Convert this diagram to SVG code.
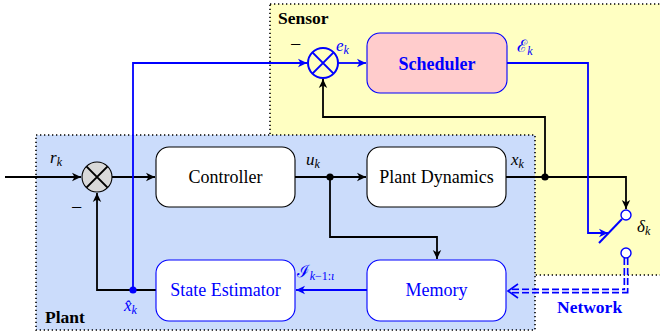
<svg xmlns="http://www.w3.org/2000/svg" width="660" height="332" viewBox="0 0 660 332">
<defs>
<style>
.zone{stroke:#000;stroke-width:1.6;stroke-dasharray:1.3 2.7}
.box{stroke-width:1.1}
.bk{fill:none;stroke:#000;stroke-width:1.8}
.bl{fill:none;stroke:#0000ff;stroke-width:1.8}
text{font-family:"Liberation Serif","Times New Roman",Times,serif}
.t{font-size:18px;text-anchor:middle}
.b{font-weight:bold;font-size:17.5px}
.m{font-style:italic;font-size:17px}
.s{font-size:12px}
.sc{font-family:"DejaVu Serif","Noto Sans",serif;font-style:normal;font-size:17px}
</style>
<marker id="ak" viewBox="-10 -5 11 10" refX="0" refY="0" markerWidth="11" markerHeight="10" markerUnits="userSpaceOnUse" orient="auto"><path d="M0,0 L-9,-4.2 L-6.5,0 L-9,4.2 Z" fill="#000"/></marker>
<marker id="ab" viewBox="-10 -5 11 10" refX="0" refY="0" markerWidth="11" markerHeight="10" markerUnits="userSpaceOnUse" orient="auto"><path d="M0,0 L-9,-4.2 L-6.5,0 L-9,4.2 Z" fill="#0000ff"/></marker>
</defs>

<g id="sensor-zone">
<rect x="270" y="4" width="394" height="271" fill="#ffffc2" class="zone"/>
<text class="b" x="278" y="24">Sensor</text>
</g>
<g id="plant-zone">
<rect x="36" y="135" width="499" height="195" fill="#cbdcfb" class="zone"/>
<text class="b" x="45" y="323">Plant</text>
</g>

<g id="connectors">
<path class="bk" d="M5,177 H81" marker-end="url(#ak)"/>
<path class="bk" d="M112,177 H155" marker-end="url(#ak)"/>
<path class="bk" d="M295,177 H366" marker-end="url(#ak)"/>
<path class="bk" d="M330,177 V237 H437 V259" marker-end="url(#ak)"/>
<path class="bk" d="M506,177 H626 V209" marker-end="url(#ak)"/>
<path class="bk" d="M545,177 V117 H323 V79" marker-end="url(#ak)"/>
<path class="bk" d="M156,290 H97 V193" marker-end="url(#ak)"/>
<path class="bl" d="M133,290 V63 H307" marker-end="url(#ab)"/>
<path class="bl" d="M338,63 H366" marker-end="url(#ab)"/>
<path class="bl" d="M507,63 H588 V233 H608" marker-end="url(#ab)"/>
<path class="bl" d="M367,290 H296" marker-end="url(#ab)"/>
<path d="M599,243 L622,219" fill="none" stroke="#0000ff" stroke-width="2"/>
<g id="network-link">
<path d="M626,258 V291 H512" fill="none" stroke="#0000ff" stroke-width="5" stroke-dasharray="7 3"/>
<path d="M626,258 V291 H512" fill="none" stroke="#ffffff" stroke-width="1.6" stroke-dasharray="7 3"/>
<path d="M518,284 L508,291 L518,298" fill="none" stroke="#0000ff" stroke-width="1.6"/>
</g>
<circle cx="330" cy="177" r="3.6" fill="#000"/>
<circle cx="545" cy="177" r="3.6" fill="#000"/>
<circle cx="133" cy="290" r="3.6" fill="#0000ff"/>
</g>

<g id="sum-sensor">
<circle cx="323" cy="63" r="15" fill="none" stroke="#0000ff" stroke-width="2"/>
<path d="M312.4,52.4 L333.6,73.6 M333.6,52.4 L312.4,73.6" stroke="#0000ff" stroke-width="2"/>
<text x="290" y="51" font-size="20">−</text>
</g>
<g id="sum-plant">
<circle cx="97" cy="177" r="15" fill="#d9d9d9" stroke="#000" stroke-width="1.1"/>
<path d="M86.4,166.4 L107.6,187.6 M107.6,166.4 L86.4,187.6" stroke="#000" stroke-width="2"/>
<text x="71" y="214" font-size="20">−</text>
</g>
<g id="scheduler">
<rect x="367" y="33" width="140" height="60" rx="13" fill="#ffcccc" stroke="#0000ff" class="box"/>
<text class="t" x="437" y="70" font-weight="bold" fill="#0000ff">Scheduler</text>
</g>
<g id="controller">
<rect x="156" y="147" width="139" height="60" rx="13" fill="#fff" stroke="#000" class="box"/>
<text class="t" x="225.5" y="183">Controller</text>
</g>
<g id="plant-dynamics">
<rect x="367" y="147" width="139" height="60" rx="13" fill="#fff" stroke="#000" class="box"/>
<text class="t" x="436.5" y="183">Plant Dynamics</text>
</g>
<g id="state-estimator">
<rect x="156" y="260" width="139" height="61" rx="13" fill="#fff" stroke="#0000ff" class="box"/>
<text class="t" x="225.5" y="296" fill="#0000ff">State Estimator</text>
</g>
<g id="memory">
<rect x="367" y="260" width="139" height="61" rx="13" fill="#fff" stroke="#0000ff" class="box"/>
<text class="t" x="436.5" y="296" fill="#0000ff">Memory</text>
</g>
<g id="switch">
<circle cx="626" cy="215" r="5" fill="#fff" stroke="#0000ff" stroke-width="1.4"/>
<circle cx="626" cy="253" r="5" fill="#fff" stroke="#0000ff" stroke-width="1.4"/>
</g>

<g id="labels">
<text class="m" x="50" y="163">r<tspan class="s" dy="3">k</tspan></text>
<text class="m" x="306" y="165">u<tspan class="s" dy="3">k</tspan></text>
<text class="m" x="511" y="165">x<tspan class="s" dy="3">k</tspan></text>
<text class="m" x="336" y="51" fill="#0000ff">e<tspan class="s" dy="3">k</tspan></text>
<text class="m" x="517" y="52" fill="#0000ff"><tspan class="sc">ℰ</tspan><tspan class="s" dy="3">k</tspan></text>
<text class="m" x="637" y="232">δ<tspan class="s" dy="3">k</tspan></text>
<text class="m" x="297" y="277" fill="#0000ff"><tspan class="sc">ℐ</tspan><tspan class="s" dy="3">k</tspan><tspan class="s" style="font-style:normal">−1:</tspan><tspan class="s">ι</tspan></text>
<text class="m" x="124" y="311" fill="#0000ff">x̂<tspan class="s" dy="3">k</tspan></text>
<text class="b" x="557" y="313" fill="#0000ff">Network</text>
</g>
</svg>
